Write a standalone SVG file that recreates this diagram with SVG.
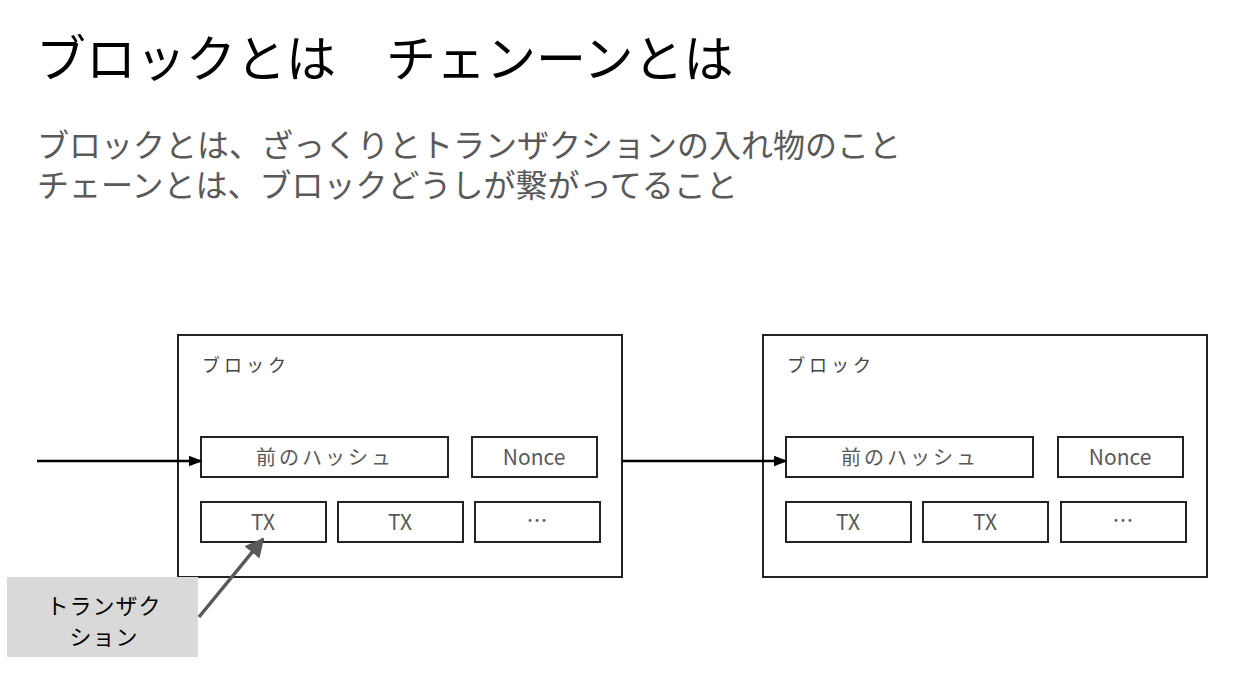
<svg xmlns="http://www.w3.org/2000/svg" width="1248" height="674" viewBox="0 0 1248 674">
<style>
text{font-family:"Noto Sans CJK JP","Noto Sans",sans-serif}
.title{font-size:50px;fill:#000}
.sub{font-size:32px;fill:#595959}
.blk{fill:#fff;stroke:#222;stroke-width:2}
.box{fill:#fff;stroke:#222;stroke-width:2}
.lbl{font-size:18px;fill:#444;letter-spacing:4px}
.in{font-size:21px;fill:#595959;text-anchor:middle}
.jp{font-size:20px;letter-spacing:3px}
.call{fill:#d9d9d9}
.ct{font-size:22px;fill:#000;text-anchor:middle;letter-spacing:1px}
</style>
<defs>
<marker id="ah" viewBox="0 0 10 10" refX="9" refY="5" markerWidth="5.5" markerHeight="5.5" orient="auto" markerUnits="strokeWidth"><path d="M0,1 L10,5 L0,9 z" fill="#000"/></marker>
<marker id="ahg" viewBox="0 0 10 10" refX="9" refY="5" markerWidth="5.5" markerHeight="5.5" orient="auto" markerUnits="strokeWidth"><path d="M0,0 L10,5 L0,10 z" fill="#595959"/></marker>
</defs>
<g id="title"><text class="title" x="36" y="77">ブロックとは　チェンーンとは</text></g>
<g id="subtitle">
<text class="sub" x="37" y="157">ブロックとは、ざっくりとトランザクションの入れ物のこと</text>
<text class="sub" x="37" y="197">チェーンとは、ブロックどうしが繋がってること</text>
</g>
<g id="block1">
<rect class="blk" x="178" y="335" width="444" height="242"/>
<text class="lbl" x="202" y="372">ブロック</text>
</g>
<g id="prevhash1"><rect class="box" x="201" y="437" width="247" height="40"/><text class="in jp" x="325" y="465">前のハッシュ</text></g>
<g id="nonce1"><rect class="box" x="472" y="437" width="125" height="40"/><text class="in" x="534" y="465">Nonce</text></g>
<g id="tx1a"><rect class="box" x="201" y="502" width="125" height="40"/><text class="in" x="263" y="530">TX</text></g>
<g id="tx1b"><rect class="box" x="338" y="502" width="125" height="40"/><text class="in" x="400" y="530">TX</text></g>
<g id="etc1"><rect class="box" x="475" y="502" width="125" height="40"/><text class="in" x="537" y="528">…</text></g>
<g id="block2">
<rect class="blk" x="763" y="335" width="444" height="242"/>
<text class="lbl" x="787" y="372">ブロック</text>
</g>
<g id="prevhash2"><rect class="box" x="786" y="437" width="247" height="40"/><text class="in jp" x="910" y="465">前のハッシュ</text></g>
<g id="nonce2"><rect class="box" x="1058" y="437" width="125" height="40"/><text class="in" x="1120" y="465">Nonce</text></g>
<g id="tx2a"><rect class="box" x="786" y="502" width="125" height="40"/><text class="in" x="848" y="530">TX</text></g>
<g id="tx2b"><rect class="box" x="923" y="502" width="125" height="40"/><text class="in" x="985" y="530">TX</text></g>
<g id="etc2"><rect class="box" x="1061" y="502" width="125" height="40"/><text class="in" x="1123" y="528">…</text></g>
<g id="callout">
<rect class="call" x="7" y="577" width="191" height="80"/>
<text class="ct" x="104" y="614">トランザク</text>
<text class="ct" x="104" y="645">ション</text>
</g>
<g id="connectors">
<line x1="37" y1="461" x2="201" y2="461" stroke="#000" stroke-width="2.5" marker-end="url(#ah)"/>
<line x1="622" y1="461" x2="786" y2="461" stroke="#000" stroke-width="2.5" marker-end="url(#ah)"/>
<line x1="199" y1="617" x2="263" y2="539" stroke="#595959" stroke-width="3.5" marker-end="url(#ahg)"/>
</g>
</svg>
